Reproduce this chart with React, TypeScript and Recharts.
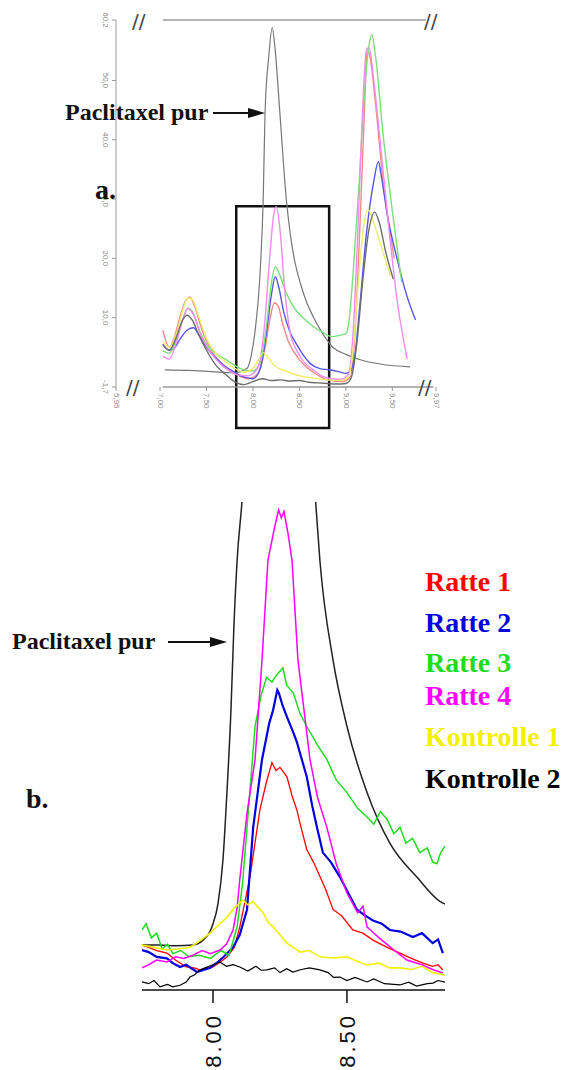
import React from 'react';
import { LineChart, Line, XAxis, YAxis, ReferenceArea, ReferenceLine } from 'recharts';

// ---------- shared series info ----------
const seriesNames = ['Ratte 1', 'Ratte 2', 'Ratte 3', 'Ratte 4', 'Kontrolle 1', 'Kontrolle 2'];
const colorsB = ['#ff0000', '#0000dd', '#1fdc1f', '#ff00ff', '#f2f200', '#000000'];
const colorsA = ['#f08a8a', '#5656e4', '#7ae07a', '#f08cf0', '#eeec6c', '#6e6e6e'];

// ---------- panel a: full chromatogram (time [min], signal) ----------
const xTicksA = [6.526, 7, 7.5, 8, 8.5, 9, 9.5, 9.97];
const xTickLabelsA = ['5,95', '7,00', '7,50', '8,00', '8,50', '9,00', '9,50', '9,97'];
const yTicksA = [-1.7, 10, 20, 30, 40, 50, 60.2];
const yTickLabelsA = ['-1,7', '10,0', '20,0', '30,0', '40,0', '50,0', '60,2'];

const ratte1A = [[7.03, 7.9], [7.1, 5.0], [7.15, 6.5], [7.22, 10.5], [7.28, 13.0], [7.32, 13.5], [7.37, 12.0], [7.45, 8.0], [7.55, 4.5], [7.65, 2.5], [7.75, 1.0], [7.85, 0.2], [7.95, -0.3], [8.05, 0.5], [8.12, 4.0], [8.18, 9.5], [8.23, 12.5], [8.27, 12.0], [8.32, 9.0], [8.38, 6.0], [8.45, 4.0], [8.55, 2.0], [8.65, 0.8], [8.8, -0.5], [8.95, -0.8], [9.05, 0], [9.1, 8], [9.15, 25], [9.2, 45], [9.23, 55.5], [9.26, 54], [9.32, 46], [9.4, 33], [9.52, 20]];
const ratte2A = [[7.03, 5.5], [7.1, 4.5], [7.15, 4.8], [7.22, 6.5], [7.3, 8.0], [7.36, 8.3], [7.42, 7.0], [7.5, 5.0], [7.6, 3.2], [7.7, 1.8], [7.8, 0.8], [7.9, 0], [8.0, -0.3], [8.08, 1.5], [8.15, 8], [8.2, 14], [8.24, 16.9], [8.28, 15], [8.33, 11], [8.4, 7.5], [8.47, 5.5], [8.55, 3.5], [8.62, 2.2], [8.72, 1.4], [8.82, 1.2], [8.92, 0.9], [9.0, 0.6], [9.05, 1], [9.1, 4], [9.15, 12], [9.22, 24], [9.3, 33], [9.35, 36.3], [9.38, 34], [9.45, 27], [9.55, 20], [9.65, 14], [9.75, 9.6]];
const ratte3A = [[7.03, 4.4], [7.1, 4.0], [7.17, 6.0], [7.24, 9.5], [7.3, 11.6], [7.35, 11.0], [7.42, 8.0], [7.5, 5.5], [7.6, 4.0], [7.7, 3.0], [7.8, 2.0], [7.9, 1.2], [8.0, 1.0], [8.08, 2.5], [8.14, 8], [8.2, 16], [8.24, 18.6], [8.28, 17.5], [8.35, 14.5], [8.45, 11.5], [8.55, 9.8], [8.65, 8.5], [8.75, 7.5], [8.85, 6.8], [8.93, 7.0], [9.0, 7.3], [9.03, 9], [9.08, 18], [9.14, 32], [9.2, 48], [9.25, 56], [9.28, 57.7], [9.32, 54], [9.4, 41], [9.5, 28], [9.6, 16]];
const ratte4A = [[7.03, 3.5], [7.1, 3.0], [7.17, 5.5], [7.24, 9.5], [7.3, 11.5], [7.36, 10.5], [7.44, 7.0], [7.55, 4.0], [7.65, 2.2], [7.75, 1.0], [7.85, 0.3], [7.95, 0.2], [8.05, 1.5], [8.12, 8], [8.18, 20], [8.22, 27], [8.25, 28.7], [8.29, 25], [8.34, 15], [8.4, 7.5], [8.47, 4.5], [8.55, 2.5], [8.65, 1.2], [8.75, 0.1], [8.85, -0.3], [8.95, -0.4], [9.03, 0.5], [9.08, 8], [9.13, 25], [9.18, 45], [9.22, 55], [9.25, 55.5], [9.3, 50], [9.38, 38], [9.47, 24], [9.56, 12], [9.66, 3]];
const kontrolle1A = [[7.03, 6.0], [7.1, 5.0], [7.17, 7.0], [7.24, 11.0], [7.3, 13.3], [7.35, 13.0], [7.42, 10.0], [7.5, 6.5], [7.6, 4.0], [7.7, 2.6], [7.8, 1.5], [7.9, 0.8], [7.98, 1.2], [8.05, 2.6], [8.11, 4.1], [8.16, 3.3], [8.24, 1.8], [8.35, 1.0], [8.5, 0.2], [8.65, -0.2], [8.8, -0.5], [8.95, -0.6], [9.03, 0], [9.08, 5], [9.13, 15], [9.18, 24], [9.24, 28.2], [9.3, 26], [9.38, 22], [9.48, 17]];
const kontrolle2A = [[7.03, 5.5], [7.1, 4.5], [7.17, 6.5], [7.24, 9.5], [7.29, 10.4], [7.35, 9.5], [7.42, 7.0], [7.5, 4.5], [7.6, 2.0], [7.7, 0.5], [7.8, -0.8], [7.9, -1.3], [8.0, -0.8], [8.1, -0.3], [8.2, -0.6], [8.3, -0.5], [8.4, -0.7], [8.5, -0.6], [8.6, -0.9], [8.7, -1.0], [8.8, -1.1], [8.9, -1.2], [9.0, -1.1], [9.06, 0], [9.12, 6], [9.18, 16], [9.25, 25], [9.31, 27.8], [9.36, 26], [9.43, 21], [9.51, 16.5]];
const paclitaxelA = [[7.05, 1.2], [7.3, 1.1], [7.55, 0.9], [7.8, 0.7], [7.94, 1.5], [7.98, 3.5], [8.02, 7.4], [8.08, 18.5], [8.11, 29.8], [8.13, 44.5], [8.17, 54], [8.207, 58.9], [8.24, 55], [8.29, 44.5], [8.36, 29.8], [8.4, 24.3], [8.45, 19.5], [8.51, 15.8], [8.58, 12.5], [8.65, 10.1], [8.75, 7.3], [8.86, 5.0], [9.0, 3.8], [9.155, 2.9], [9.4, 2.1], [9.69, 1.7]];

// ---------- panel b: zoom on the paclitaxel peak ----------
const xTicksB = [8.0, 8.5];

const ratte1B = [[7.735, 1.15], [7.76, 1.0], [7.79, 0.8], [7.828, 0.64], [7.86, 0.2], [7.9, -0.24], [7.93, -0.3], [7.951, -0.43], [7.98, -0.3], [8.0, -0.24], [8.03, 0.1], [8.052, 0.39], [8.08, 1.0], [8.1, 2.3], [8.138, 5.45], [8.175, 9.7], [8.2, 11.5], [8.22, 12.7], [8.235, 12.2], [8.25, 12.4], [8.276, 11.8], [8.295, 10.6], [8.313, 9.7], [8.33, 8.5], [8.35, 7.2], [8.375, 6.4], [8.4, 5.45], [8.42, 4.7], [8.448, 3.4], [8.48, 3.0], [8.522, 2.1], [8.56, 1.9], [8.597, 1.46], [8.65, 1.0], [8.698, 0.64], [8.74, 0.3], [8.784, 0.0], [8.82, -0.2], [8.84, -0.1], [8.858, -0.43]];
const ratte2B = [[7.735, 0.83], [7.76, 0.7], [7.79, 0.4], [7.828, 0.3], [7.85, 0.0], [7.877, -0.24], [7.9, -0.1], [7.94, -0.56], [7.97, -0.4], [7.989, -0.3], [8.02, 0.1], [8.039, 0.39], [8.075, 1.0], [8.1, 1.8], [8.127, 3.4], [8.15, 8.6], [8.183, 12.9], [8.21, 15.2], [8.224, 16.0], [8.24, 17.3], [8.246, 17.1], [8.26, 16.3], [8.276, 15.6], [8.3, 14.6], [8.313, 14.0], [8.35, 11.8], [8.37, 10.0], [8.388, 8.6], [8.41, 7.0], [8.44, 6.4], [8.474, 5.45], [8.5, 4.6], [8.537, 3.4], [8.56, 3.1], [8.597, 2.7], [8.63, 2.5], [8.66, 2.1], [8.7, 2.0], [8.746, 1.65], [8.78, 1.9], [8.82, 1.27], [8.84, 1.5], [8.858, 0.64]];
const ratte3B = [[7.735, 2.1], [7.75, 2.5], [7.77, 1.6], [7.79, 1.9], [7.81, 0.9], [7.83, 1.2], [7.85, 0.6], [7.88, 0.8], [7.91, 0.4], [7.95, 0.5], [7.99, 0.3], [8.03, 0.8], [8.06, 0.5], [8.09, 2.3], [8.11, 5], [8.127, 8.6], [8.157, 15.0], [8.18, 17.0], [8.2, 18.1], [8.22, 17.8], [8.24, 18.3], [8.261, 18.7], [8.275, 17.6], [8.3, 17.1], [8.325, 15.8], [8.35, 15.0], [8.39, 13.8], [8.425, 12.9], [8.46, 11.6], [8.5, 10.8], [8.54, 9.8], [8.575, 9.25], [8.6, 8.8], [8.625, 9.6], [8.65, 9.1], [8.675, 8.2], [8.698, 8.6], [8.72, 7.6], [8.745, 7.9], [8.772, 7.0], [8.8, 7.3], [8.82, 6.4], [8.836, 6.3], [8.85, 7.0], [8.866, 7.4]];
const ratte4B = [[7.735, -0.3], [7.76, -0.1], [7.79, 0.2], [7.828, 0.07], [7.86, 0.4], [7.89, 0.3], [7.925, 0.5], [7.96, 0.8], [7.99, 0.6], [8.026, 0.83], [8.05, 1.2], [8.075, 2.1], [8.09, 3.5], [8.1, 5.3], [8.127, 9.5], [8.157, 12.9], [8.183, 19.2], [8.205, 25.5], [8.23, 27.6], [8.245, 28.7], [8.255, 28.2], [8.265, 28.6], [8.28, 27.2], [8.295, 25.5], [8.317, 19.2], [8.362, 12.9], [8.39, 10.5], [8.425, 8.6], [8.46, 6.3], [8.5, 4.44], [8.54, 3.2], [8.56, 3.6], [8.575, 2.29], [8.62, 1.6], [8.67, 0.9], [8.724, 0.2], [8.78, -0.1], [8.82, -0.4], [8.858, -0.62]];
const kontrolle1B = [[7.735, 1.15], [7.78, 1.0], [7.828, 0.83], [7.87, 0.9], [7.914, 1.0], [7.95, 1.4], [7.989, 1.9], [8.02, 2.4], [8.052, 2.9], [8.08, 3.5], [8.112, 4.0], [8.13, 3.7], [8.149, 3.9], [8.17, 3.5], [8.187, 3.2], [8.205, 2.6], [8.224, 2.3], [8.25, 1.8], [8.276, 1.27], [8.3, 1.0], [8.325, 0.7], [8.36, 0.8], [8.4, 0.4], [8.448, 0.33], [8.5, 0.4], [8.54, 0.1], [8.575, -0.12], [8.62, 0.0], [8.66, -0.3], [8.698, -0.3], [8.74, -0.4], [8.78, -0.2], [8.82, -0.6], [8.866, -0.75]];
const kontrolle2B = [[7.735, -1.19], [7.76, -1.3], [7.78, -1.1], [7.802, -1.5], [7.83, -1.35], [7.85, -1.5], [7.877, -1.4], [7.9, -1.2], [7.914, -0.88], [7.93, -0.75], [7.951, -0.43], [7.97, -0.3], [8.0, -0.1], [8.026, 0.07], [8.05, -0.2], [8.075, -0.1], [8.1, -0.24], [8.13, -0.5], [8.16, -0.2], [8.18, -0.45], [8.201, -0.43], [8.23, -0.3], [8.25, -0.6], [8.275, -0.35], [8.298, -0.56], [8.33, -0.4], [8.36, -0.3], [8.399, -0.43], [8.43, -0.6], [8.45, -0.9], [8.474, -0.88], [8.5, -1.1], [8.53, -0.9], [8.575, -1.19], [8.6, -1.0], [8.64, -1.3], [8.698, -1.38], [8.73, -1.2], [8.76, -1.45], [8.8, -1.3], [8.821, -1.26], [8.84, -1.1], [8.866, -1.2]];
const paclitaxelB = [[7.735, 1.15], [7.8, 1.15], [7.86, 1.1], [7.925, 1.15], [7.963, 1.46], [7.996, 2.29], [8.019, 3.8], [8.037, 6.5], [8.052, 10.8], [8.067, 16.0], [8.078, 21.3], [8.09, 25.5], [8.108, 29.2], [8.15, 42], [8.2, 54], [8.24, 58.5], [8.29, 52], [8.34, 40], [8.38, 30], [8.399, 25.5], [8.448, 19.2], [8.5, 15.0], [8.575, 10.8], [8.66, 7.6], [8.761, 5.45], [8.858, 3.8], [8.866, 3.75]];

const toPts = (arr: number[][]) => arr.map(([t, v]) => ({ t, v }));
const seriesA = [ratte1A, ratte2A, ratte3A, ratte4A, kontrolle1A, kontrolle2A].map(toPts);
const seriesB = [ratte1B, ratte2B, ratte3B, ratte4B, kontrolle1B, kontrolle2B].map(toPts);
const widthsB = [1.3, 2.2, 1.5, 1.5, 1.6, 1.2];

const serif = '"Liberation Serif", "Times New Roman", serif';

const labelA = (ticks: number[], labels: string[], v: number) => {
  const i = ticks.findIndex((t) => Math.abs(t - v) < 1e-6);
  return i >= 0 ? labels[i] : String(v);
};

const XTickA = (props: any) => {
  const { x, y, payload } = props;
  return (
    <text x={x} y={y} transform={`rotate(90 ${x} ${y})`} textAnchor="start" dominantBaseline="middle"
      fontSize={8} fontFamily="Liberation Sans" fill="#8a8a8a">
      {labelA(xTicksA, xTickLabelsA, payload.value)}
    </text>
  );
};

const YTickA = (props: any) => {
  const { x, y, payload } = props;
  const cx = x - 5;
  return (
    <text x={cx} y={y} transform={`rotate(90 ${cx} ${y})`} textAnchor="middle" dominantBaseline="middle"
      fontSize={8} fontFamily="Liberation Sans" fill="#8a8a8a">
      {labelA(yTicksA, yTickLabelsA, payload.value)}
    </text>
  );
};

const XTickB = (props: any) => {
  const { x, y, payload } = props;
  const bx = x + 8;
  const by = y + 8;
  return (
    <text x={bx} y={by} transform={`rotate(-90 ${bx} ${by})`} textAnchor="end"
      fontSize={22} letterSpacing={3} fontFamily="Liberation Sans" fill="#111">
      {payload.value.toFixed(2)}
    </text>
  );
};

const slash = (left: number, top: number) => (
  <div style={{ position: 'absolute', left, top, fontSize: 20, fontFamily: 'DejaVu Sans', color: '#444', lineHeight: '20px' }}>//</div>
);

export default function App() {
  return (
    <div style={{ position: 'absolute', left: 0, top: 0, width: 577, height: 1070, background: '#fff', fontFamily: serif }}>
      {/* panel a */}
      <div style={{ position: 'absolute', left: 0, top: 0 }}>
        <LineChart width={577} height={450} margin={{ top: 20, right: 141, bottom: 23, left: 86 }}>
          <XAxis type="number" dataKey="t" domain={[6.526, 9.97]} ticks={xTicksA} allowDataOverflow interval={0}
            axisLine={false} tickLine={{ stroke: '#999' }} tickSize={4} height={40} tick={<XTickA />} />
          <YAxis type="number" dataKey="v" domain={[-1.7, 60.2]} ticks={yTicksA} allowDataOverflow interval={0}
            width={30} axisLine={{ stroke: '#999' }} tickLine={{ stroke: '#999' }} tickSize={4} tick={<YTickA />} />
          <ReferenceLine segment={[{ x: 7.03, y: 60.2 }, { x: 9.86, y: 60.2 }]} stroke="#999" strokeWidth={1.5} />
          <ReferenceLine segment={[{ x: 7.03, y: -1.7 }, { x: 9.94, y: -1.7 }]} stroke="#999" strokeWidth={1.5} />
          <Line data={toPts(paclitaxelA)} dataKey="v" stroke="#777" strokeWidth={1.2} dot={false} isAnimationActive={false} type="monotone" />
          {seriesA.map((d, i) => (
            <Line key={seriesNames[i]} data={d} dataKey="v" name={seriesNames[i]} stroke={colorsA[i]}
              strokeWidth={1.4} dot={false} isAnimationActive={false} type="monotone" />
          ))}
          <ReferenceArea x1={7.82} x2={8.82} y1={-8.6} y2={28.8} ifOverflow="visible" fill="none" fillOpacity={0}
            stroke="#111" strokeWidth={2.5} />
        </LineChart>
      </div>

      {/* panel b */}
      <div style={{ position: 'absolute', left: 0, top: 480 }}>
        <LineChart width={577} height={590} margin={{ top: 22, right: 132, bottom: 0, left: 142 }}>
          <XAxis type="number" dataKey="t" domain={[7.735, 8.866]} ticks={xTicksB} allowDataOverflow interval={0}
            axisLine={{ stroke: '#111', strokeWidth: 1.5 }} tickLine={{ stroke: '#111', strokeWidth: 1.5 }}
            tickSize={13} height={80} tick={<XTickB />} />
          <YAxis type="number" dataKey="v" hide width={0} domain={[-1.7, 29.2]} allowDataOverflow />
          <Line data={toPts(paclitaxelB)} dataKey="v" stroke="#222" strokeWidth={1.5} dot={false} isAnimationActive={false} type="monotone" />
          {seriesB.map((d, i) => (
            <Line key={seriesNames[i]} data={d} dataKey="v" name={seriesNames[i]} stroke={colorsB[i]}
              strokeWidth={widthsB[i]} dot={false} isAnimationActive={false} type="linear" />
          ))}
        </LineChart>
      </div>

      {/* break marks of panel a */}
      {slash(132, 11)}
      {slash(424, 11)}
      {slash(126, 377)}
      {slash(418, 377)}

      {/* annotations */}
      <svg width={577} height={1070} style={{ position: 'absolute', left: 0, top: 0, pointerEvents: 'none' }}>
        <text x={65} y={120} fontFamily={serif} fontWeight="bold" fontSize={24} fill="#111">Paclitaxel pur</text>
        <line x1={213} y1={113} x2={250} y2={113} stroke="#111" strokeWidth={2} />
        <polygon points="265,113 248,108 248,118" fill="#111" />
        <text x={95} y={199} fontFamily={serif} fontWeight="bold" fontSize={28} fill="#111">a.</text>

        <text x={12} y={649} fontFamily={serif} fontWeight="bold" fontSize={24} fill="#111">Paclitaxel pur</text>
        <line x1={168} y1={642} x2={212} y2={642} stroke="#111" strokeWidth={2} />
        <polygon points="227,642 210,637 210,647" fill="#111" />
        <text x={26} y={808} fontFamily={serif} fontWeight="bold" fontSize={28} fill="#111">b.</text>

        {[591, 632, 672, 705, 746, 788].map((y, i) => (
          <text key={seriesNames[i]} x={425} y={y} fontFamily={serif} fontWeight="bold" fontSize={28} fill={colorsB[i]}>
            {seriesNames[i]}
          </text>
        ))}
      </svg>
    </div>
  );
}
